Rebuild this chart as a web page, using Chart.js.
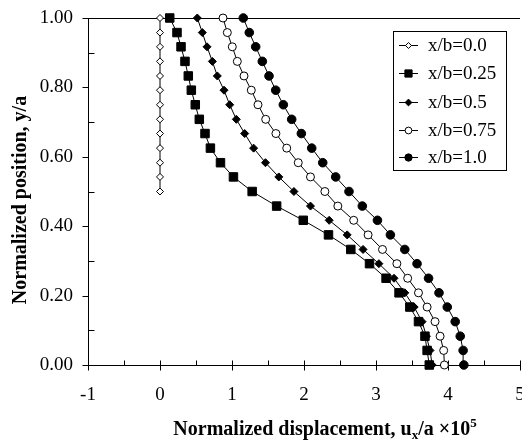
<!DOCTYPE html>
<html>
<head>
<meta charset="utf-8">
<script src="https://cdn.jsdelivr.net/npm/chart.js@4/dist/chart.umd.min.js"></script>
<style>
html,body{margin:0;padding:0;background:#fff;}
#wrap{width:522px;height:444px;position:relative;}
</style>
</head>
<body>
<div id="wrap"><canvas id="c" width="522" height="444"></canvas></div>
<script>
// ---- data ----
const yPositions = [0.000,0.042,0.083,0.125,0.167,0.208,0.250,0.292,0.333,0.375,0.417,0.458,0.500,0.542,0.583,0.625,0.667,0.708,0.750,0.792,0.833,0.875,0.917,0.958,1.000];
const seriesLabels = ['x/b=0.0','x/b=0.25','x/b=0.5','x/b=0.75','x/b=1.0'];
const disp000 = [null,null,null,null,null,null,null,null,null,null,null,null,0,0,0,0,0,0,0,0,0,0,0,0,0];
const disp025 = [3.74,3.71,3.68,3.59,3.47,3.32,3.14,2.91,2.65,2.34,1.99,1.62,1.28,1.02,0.84,0.70,0.625,0.546,0.49,0.435,0.393,0.347,0.292,0.236,0.135];
const disp050 = [3.78,3.75,3.70,3.64,3.53,3.40,3.25,3.04,2.82,2.60,2.35,2.09,1.86,1.65,1.465,1.30,1.176,1.06,0.968,0.889,0.796,0.727,0.653,0.588,0.518];
const disp075 = [3.95,3.94,3.89,3.82,3.71,3.59,3.44,3.29,3.09,2.89,2.69,2.47,2.29,2.09,1.92,1.76,1.61,1.468,1.361,1.268,1.167,1.074,1.004,0.935,0.875];
const disp100 = [4.22,4.21,4.17,4.10,3.99,3.875,3.73,3.57,3.40,3.20,3.02,2.81,2.625,2.44,2.26,2.107,1.963,1.829,1.713,1.607,1.514,1.421,1.329,1.24,1.157];
const xTickValues = [-1,0,1,2,3,4,5];
const yTickValues = [0,0.2,0.4,0.6,0.8,1.0];

const SERIF = '"Liberation Serif","Times New Roman",serif';

function pts(xs){
  const out=[];
  xs.forEach((v,i)=>{ if(v!==null) out.push({x:v,y:yPositions[i]}); });
  return out;
}
const styles = [
  {pointStyle:'rectRot', radius:3.5, bg:'#fff'},
  {pointStyle:'rect',    radius:6,   bg:'#000'},
  {pointStyle:'rectRot', radius:4,   bg:'#000'},
  {pointStyle:'circle',  radius:4,   bg:'#fff'},
  {pointStyle:'circle',  radius:4.3, bg:'#000'}
];
const allData = [disp000,disp025,disp050,disp075,disp100];
const datasets = allData.map((d,i)=>({
  label: seriesLabels[i],
  data: pts(d),
  showLine: true,
  borderColor:'#000',
  borderWidth:1,
  pointStyle: styles[i].pointStyle,
  pointRadius: styles[i].radius,
  pointBackgroundColor: styles[i].bg,
  pointBorderColor:'#000',
  pointBorderWidth:1,
  clip:false
}));

const noPad = () => ({left:0,top:0,right:0,bottom:0});

const decor = {
  id:'decor',
  beforeDatasetsDraw(chart){
    const {ctx, chartArea:a} = chart;
    ctx.save();
    ctx.strokeStyle='#000'; ctx.lineWidth=1;
    const ty = Math.round(a.top)+0.5;
    ctx.beginPath(); ctx.moveTo(a.left, ty); ctx.lineTo(a.right, ty); ctx.stroke();
    const xs = chart.scales.x, ys = chart.scales.y;
    const by = Math.round(a.bottom)+0.5, lx = Math.round(a.left)+0.5;
    ctx.beginPath();
    for(let v=-1; v<=5.001; v+=0.5){
      const px = Math.round(xs.getPixelForValue(v))+0.5;
      const major = Math.abs(v-Math.round(v))<1e-6;
      if(major){ ctx.moveTo(px, by-5); ctx.lineTo(px, by+5); }
      else { ctx.moveTo(px, by-5); ctx.lineTo(px, by); }
    }
    for(let k=0; k<=10; k++){
      const v=k/10;
      const py = Math.round(ys.getPixelForValue(v))+0.5;
      if(k%2===0){ ctx.moveTo(lx-6, py); ctx.lineTo(lx, py); }
      else { ctx.moveTo(lx, py); ctx.lineTo(lx+6, py); }
    }
    ctx.stroke();
    ctx.restore();
  },
  afterDraw(chart){
    const {ctx} = chart;
    ctx.save();
    ctx.fillStyle='#000';
    ctx.font = 'bold 20px '+SERIF;
    ctx.textAlign='center'; ctx.textBaseline='middle';
    ctx.translate(21,200); ctx.rotate(-Math.PI/2);
    ctx.fillText('Normalized position, y/a',0,0);
    ctx.setTransform(1,0,0,1,0,0);
    const parts = [
      {t:'Normalized displacement, u', f:'bold 20px '+SERIF, dy:0},
      {t:'x', f:'bold 13px '+SERIF, dy:4},
      {t:'/a \u00d710', f:'bold 20px '+SERIF, dy:0},
      {t:'5', f:'bold 13px '+SERIF, dy:-8}
    ];
    let w=0;
    parts.forEach(p=>{ctx.font=p.f; p.w=ctx.measureText(p.t).width; w+=p.w;});
    let x = 325 - w/2; const base = 435;
    ctx.textAlign='left'; ctx.textBaseline='alphabetic';
    parts.forEach(p=>{ctx.font=p.f; ctx.fillText(p.t,x,base+p.dy); x+=p.w;});
    const L = {x:393.5, y:31.5, w:113, h:139};
    ctx.fillStyle='#fff'; ctx.fillRect(L.x,L.y,L.w,L.h);
    ctx.strokeStyle='#000'; ctx.lineWidth=1; ctx.strokeRect(L.x,L.y,L.w,L.h);
    const rows=[45,73,102,130,157];
    ctx.font='19px '+SERIF; ctx.textBaseline='middle';
    datasets.forEach((ds,i)=>{
      const cy=rows[i];
      ctx.beginPath(); ctx.moveTo(399,cy+0.5); ctx.lineTo(418,cy+0.5); ctx.strokeStyle='#000'; ctx.stroke();
      ctx.fillStyle=ds.pointBackgroundColor; ctx.strokeStyle='#000'; ctx.lineWidth=1;
      Chart.helpers.drawPoint(ctx,{pointStyle:ds.pointStyle,radius:ds.pointRadius*0.85,borderWidth:1,rotation:0},408.5,cy+0.5);
      ctx.fillStyle='#000';
      ctx.fillText(ds.label,428,cy+1);
    });
    ctx.restore();
  }
};

new Chart(document.getElementById('c'),{
  type:'scatter',
  data:{datasets},
  options:{
    responsive:false,
    animation:false,
    events:[],
    layout:{autoPadding:false, padding:{left:0,right:2,top:18,bottom:0}},
    plugins:{legend:{display:false},tooltip:{enabled:false}},
    scales:{
      x:{
        type:'linear', min:-1, max:5,
        afterBuildTicks(s){ s.ticks = xTickValues.map(v=>({value:v})); },
        afterFit(s){ s.height = 444-365; s.paddingLeft=0; s.paddingRight=0; s.getPadding = noPad; },
        grid:{display:false, drawTicks:false},
        border:{display:true, color:'#000', width:1},
        ticks:{color:'#000', font:{family:SERIF,size:19}, padding:19, maxRotation:0,
          callback:(v)=>String(v)}
      },
      y:{
        type:'linear', min:0, max:1,
        afterBuildTicks(s){ s.ticks = yTickValues.map(v=>({value:v})); },
        afterFit(s){ s.width = 88; s.paddingTop=0; s.paddingBottom=0; s.getPadding = noPad; },
        grid:{display:false, drawTicks:false},
        border:{display:true, color:'#000', width:1},
        ticks:{color:'#000', font:{family:SERIF,size:19}, padding:15,
          callback:(v)=>Number(v).toFixed(2)}
      }
    }
  },
  plugins:[decor]
});
</script>
</body>
</html>
